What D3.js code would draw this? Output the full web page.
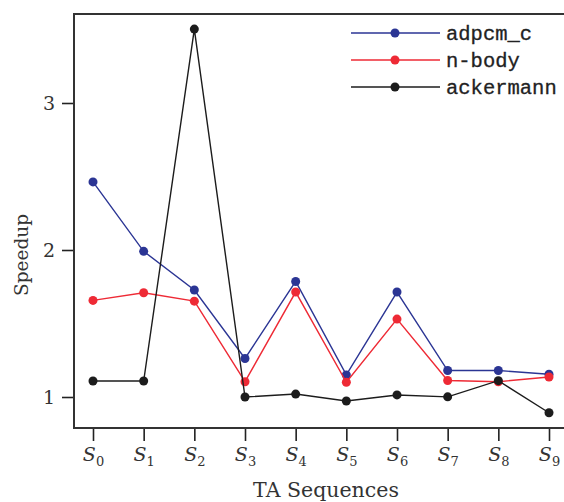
<!DOCTYPE html>
<html><head><meta charset="utf-8">
<script src="https://cdn.jsdelivr.net/npm/d3@7"></script>
<style>body{margin:0;background:#fff}svg{display:block}</style>
</head><body>
<svg id="c" width="564" height="502"></svg>
<script>
const categories = ["0","1","2","3","4","5","6","7","8","9"];
const adpcm_c = [2.463, 1.991, 1.728, 1.262, 1.786, 1.150, 1.714, 1.180, 1.180, 1.155];
const nbody = [1.657, 1.709, 1.652, 1.104, 1.714, 1.100, 1.530, 1.112, 1.104, 1.136];
const ackermann = [1.109, 1.109, 3.503, 1.000, 1.020, 0.973, 1.014, 1.001, 1.111, 0.893];
const yTicks = [1, 2, 3];
const seriesNames = ["adpcm_c", "n-body", "ackermann"];
const seriesColors = ["#2b3594", "#ee2a35", "#1c1c1c"];

const svg = d3.select("#c");
const L = 74, T = 14, B = 428, R = 564;
const x = d3.scaleLinear().domain([0, 9]).range([93, 549]);
const y = d3.scaleLinear().domain([1, 3]).range([397, 103]);
const serif = "'DejaVu Serif', serif";

// axes
const ya = svg.append("g").attr("transform", `translate(${L},0)`)
  .call(d3.axisLeft(y).tickValues(yTicks).tickSize(12).tickPadding(7).tickFormat(d3.format("d")));
ya.select(".domain").remove();
ya.selectAll("line").attr("stroke", "#222").attr("stroke-width", 1.6);
ya.selectAll("text").attr("font-family", serif).attr("font-size", 19).attr("fill", "#333").attr("dy", "0.35em");

const xa = svg.append("g").attr("transform", `translate(0,${B})`)
  .call(d3.axisBottom(x).tickValues(d3.range(categories.length)).tickSize(13).tickPadding(10).tickFormat(() => ""));
xa.select(".domain").remove();
xa.selectAll("line").attr("stroke", "#222").attr("stroke-width", 1.6);
xa.selectAll("text").each(function(d) {
  const t = d3.select(this).attr("font-family", serif).attr("fill", "#333").attr("dy", "0.71em").attr("y", 26);
  t.append("tspan").attr("font-style", "italic").attr("font-size", 19).text("S");
  t.append("tspan").attr("font-size", 13).attr("dy", 5).text(categories[d]);
});

// frame
svg.append("path").attr("d", `M${R},${T}H${L}V${B}H${R}`).attr("fill", "none").attr("stroke", "#333").attr("stroke-width", 2);

// axis labels
svg.append("text").attr("x", 326).attr("y", 497).attr("text-anchor", "middle")
  .attr("font-family", serif).attr("font-size", 20.5).attr("fill", "#333").text("TA Sequences");
svg.append("text").attr("transform", "translate(28,255) rotate(-90)").attr("text-anchor", "middle")
  .attr("font-family", serif).attr("font-size", 18.5).attr("fill", "#333").text("Speedup");

// series
const allSeries = [adpcm_c, nbody, ackermann];
const line = d3.line().x((d, i) => x(i)).y(d => y(d));
allSeries.forEach((s, k) => {
  const g = svg.append("g");
  g.append("path").attr("d", line(s)).attr("fill", "none").attr("stroke", seriesColors[k]).attr("stroke-width", 1.4);
  g.selectAll("circle").data(s).join("circle").attr("cx", (d, i) => x(i)).attr("cy", d => y(d)).attr("r", 4.5).attr("fill", seriesColors[k]);
});

// legend
const lg = svg.append("g");
seriesNames.forEach((n, k) => {
  const yy = 33 + k * 27;
  lg.append("line").attr("x1", 351).attr("x2", 440).attr("y1", yy).attr("y2", yy).attr("stroke", seriesColors[k]).attr("stroke-width", 1.4);
  lg.append("circle").attr("cx", 395).attr("cy", yy).attr("r", 4.5).attr("fill", seriesColors[k]);
  lg.append("text").attr("x", 446).attr("y", yy).attr("dy", "0.35em").attr("font-family", "'Liberation Mono', monospace")
    .attr("font-size", 20.5).attr("fill", "#222").attr("stroke", "#222").attr("stroke-width", 0.3).text(n);
});
</script>
</body></html>
